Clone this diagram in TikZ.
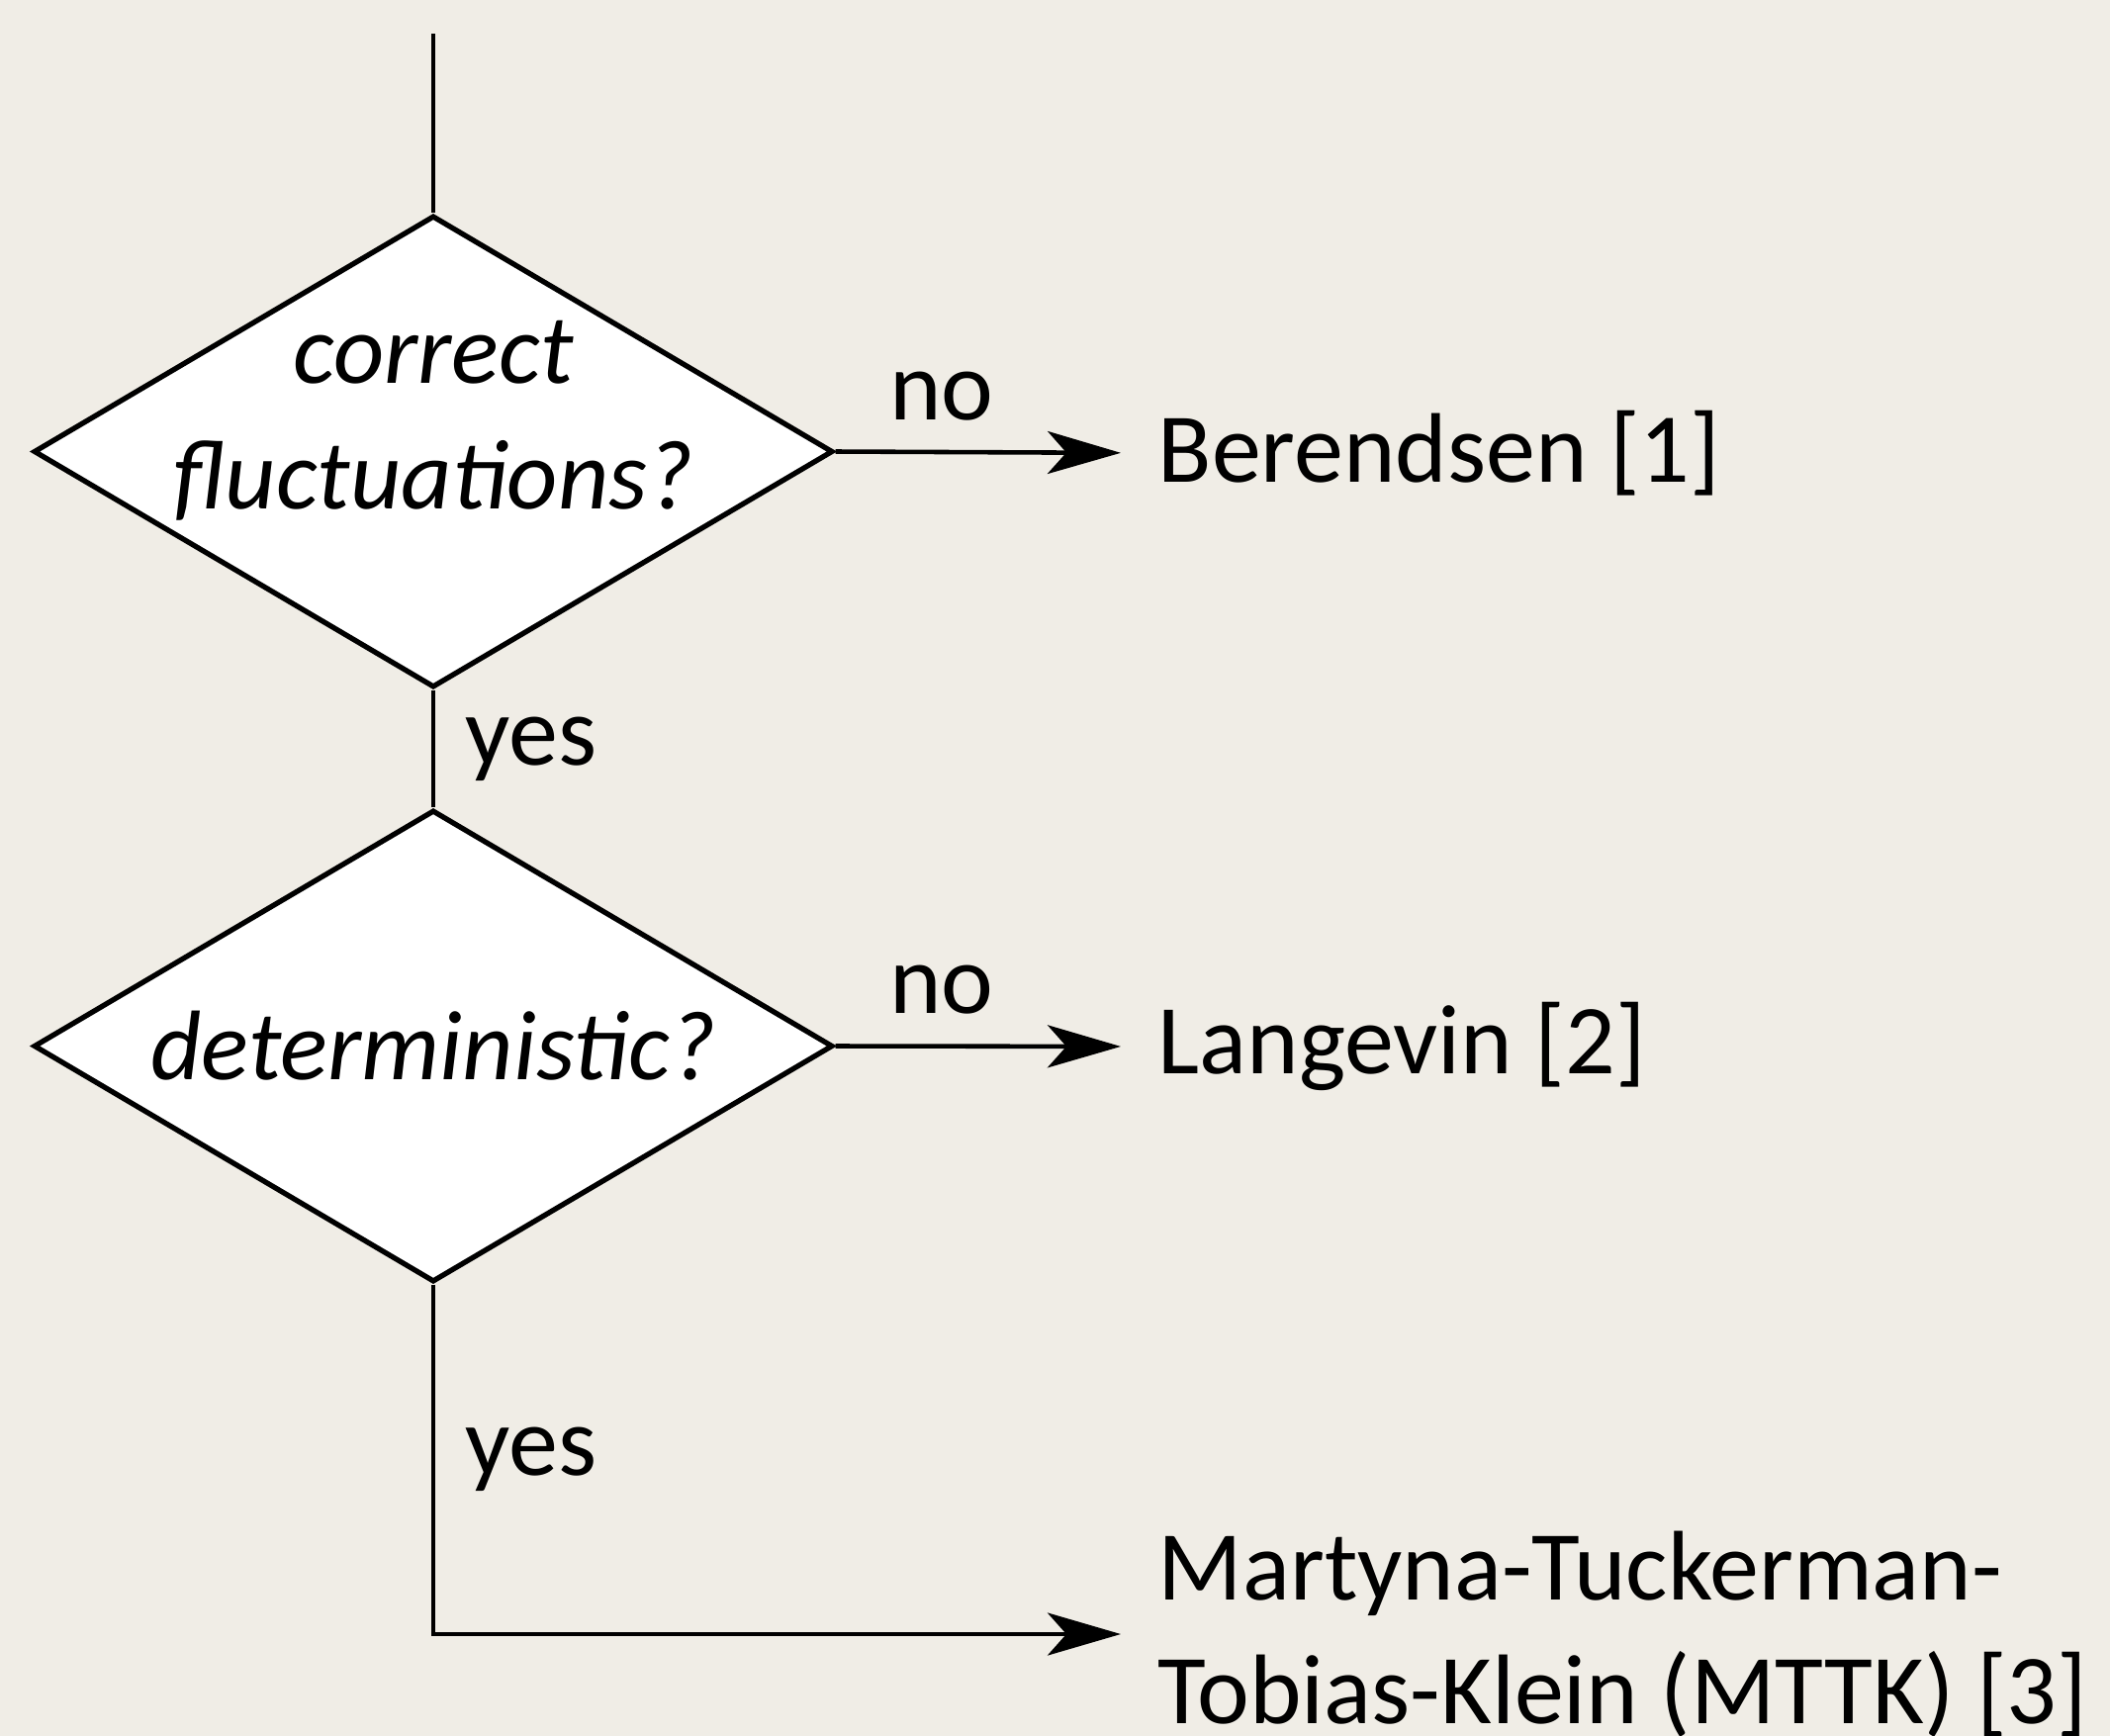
\documentclass[tikz,border=0pt]{standalone}
\usepackage{fontspec}
\setmainfont{Carlito}
\usetikzlibrary{positioning,arrows.meta,shapes.geometric}
\definecolor{fondo}{RGB}{240,237,230}

\begin{document}
\begin{tikzpicture}[
  font=\fontsize{28.45}{35.5}\selectfont,
  cond/.style={draw, line width=1.5pt, fill=white, shape=diamond, aspect=1.694, minimum width=8.08cm,
    minimum height=4.77cm, inner sep=-6mm, align=center, font=\fontsize{28.45}{36}\selectfont\itshape},
  res/.style={anchor=west, inner sep=0pt, align=left},
  lbl/.style={inner sep=0.3cm},
  linea/.style={line width=1.3pt},
  flecha/.style={line width=1.3pt, -{Stealth[length=7.4mm, width=4.3mm, inset=1.9mm]}, shorten >=3.7mm}
]
\fill[fondo] (0,0) rectangle (21.33,-17.55);
\useasboundingbox (0,0) rectangle (21.33,-17.55);

%% ===== decisiones =====
\coordinate (inicio) at (4.38,-0.34);
\node[cond, text depth=0.74cm] (fluct) at (4.38,-4.565) {correct\\fluctuations?};
\node[cond] (determ) at (4.38,-10.575) {deterministic?};

%% ===== termostatos =====
\node[res] (ber) at (11.70,-4.58) {Berendsen [1]};
\node[res] (lan) at (11.70,-10.58) {Langevin [2]};
\node[res] (mttk) at (11.70,-16.52) {Martyna-Tuckerman-\\Tobias-Klein (MTTK) [3]};

\draw[linea] (inicio) -- (fluct.north);
\draw[linea] (fluct.south) -- node[lbl, right] {yes} (determ.north);
\draw[flecha] (determ.south) |- node[lbl, right, pos=0.25] {yes} (mttk.west);
\draw[flecha] (fluct.east) -- node[lbl, above, pos=0.33] {no} (ber.west);
\draw[flecha] (determ.east) -- node[lbl, above, pos=0.33] {no} (lan.west);
\end{tikzpicture}
\end{document}
